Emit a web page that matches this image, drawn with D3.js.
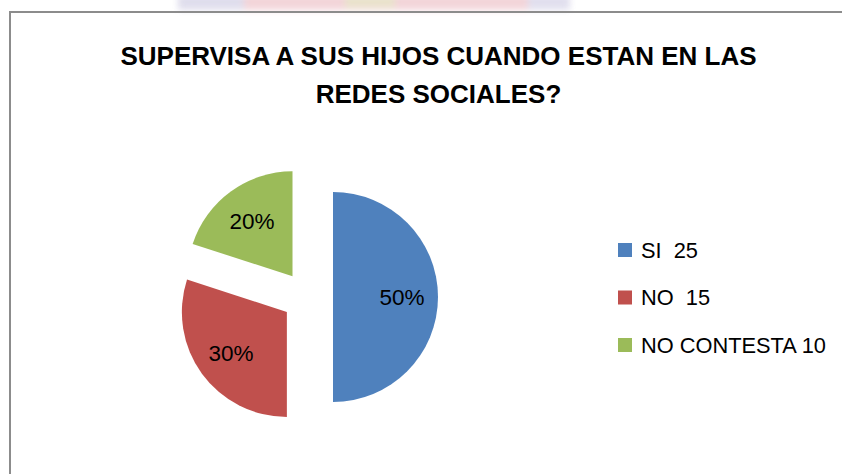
<!DOCTYPE html>
<html>
<head>
<meta charset="utf-8">
<script src="https://cdn.jsdelivr.net/npm/d3@7"></script>
<style>
    body { margin: 0; background: #fff; }
    svg { display: block; }
    text { font-family: "Liberation Sans", Arial, sans-serif; }
</style>
</head>
<body>
<script>
// data
const categories = ["SI", "NO", "NO CONTESTA"];
const values = [25, 15, 10];
const legendLabels = ["SI  25", "NO  15", "NO CONTESTA 10"];
const titleLines = ["SUPERVISA A SUS HIJOS CUANDO ESTAN EN LAS", "REDES SOCIALES?"];
const colors = ["#4f81bd", "#c0504d", "#9bbb59"];

const width = 842, height = 474;
const center = { x: 307.5, y: 297 },
    radius = 105,
    explode = 25.5,
    labelRadius = 69;

const svg = d3.select("body").append("svg")
    .attr("width", width)
    .attr("height", height);

// faint watermark bleeding in at the top edge
svg.append("defs").append("filter")
    .attr("id", "blur")
    .attr("x", "-20%").attr("y", "-100%")
    .attr("width", "140%").attr("height", "300%")
    .append("feGaussianBlur")
    .attr("stdDeviation", 3);
const wm = svg.append("g")
    .attr("filter", "url(#blur)")
    .attr("opacity", 0.8);
wm.append("rect").attr("x", 178).attr("y", -6).attr("width", 66).attr("height", 16).attr("fill", "#d8d6e8");
wm.append("rect").attr("x", 244).attr("y", -6).attr("width", 284).attr("height", 16).attr("fill", "#f0cbd0");
wm.append("rect").attr("x", 345).attr("y", -6).attr("width", 50).attr("height", 14).attr("fill", "#e4dcc0");
wm.append("rect").attr("x", 528).attr("y", -6).attr("width", 42).attr("height", 16).attr("fill", "#dad8ea");

// chart frame (only top and left edges are inside the picture)
svg.append("path")
    .attr("d", "M10," + height + "V12H" + width)
    .attr("fill", "none")
    .attr("stroke", "#8c8c8c")
    .attr("stroke-width", 2);

svg.append("g")
    .selectAll("text")
    .data(titleLines)
    .enter()
    .append("text")
    .attr("x", 438.5)
    .attr("y", (d, i) => 65 + i * 38)
    .attr("text-anchor", "middle")
    .style("font-weight", "bold")
    .style("font-size", "26px")
    .attr("fill", "#000")
    .text(d => d);

const total = d3.sum(values);
const pie = d3.pie()
    .sort(null)
    .value(d => d);
const arc = d3.arc()
    .innerRadius(0)
    .outerRadius(radius);
const labelArc = d3.arc()
    .innerRadius(labelRadius)
    .outerRadius(labelRadius);

const slices = svg.append("g")
    .attr("transform", "translate(" + center.x + "," + center.y + ")")
    .selectAll(".slice")
    .data(pie(values))
    .enter()
    .append("g")
    .attr("class", "slice")
    .attr("transform", function(d) {
        const mid = (d.startAngle + d.endAngle) / 2;
        return "translate(" + (Math.sin(mid) * explode) + "," + (-Math.cos(mid) * explode) + ")";
    });

slices.append("path")
    .attr("d", arc)
    .attr("fill", (d, i) => colors[i]);

slices.append("text")
    .attr("transform", d => "translate(" + labelArc.centroid(d) + ")")
    .attr("dy", "0.36em")
    .attr("text-anchor", "middle")
    .style("font-size", "22.5px")
    .attr("fill", "#000")
    .text(d => d3.format(".0%")(d.value / total));

// legend
const legend = svg.append("g")
    .selectAll(".legend")
    .data(categories)
    .enter()
    .append("g")
    .attr("class", "legend")
    .attr("transform", (d, i) => "translate(618," + (243 + i * 47.5) + ")");

legend.append("rect")
    .attr("width", 14)
    .attr("height", 14)
    .attr("fill", (d, i) => colors[i]);

legend.append("text")
    .attr("x", 23)
    .attr("y", 14.5)
    .style("font-size", "21.8px")
    .style("white-space", "pre")
    .attr("fill", "#000")
    .text((d, i) => legendLabels[i]);
</script>
</body>
</html>
